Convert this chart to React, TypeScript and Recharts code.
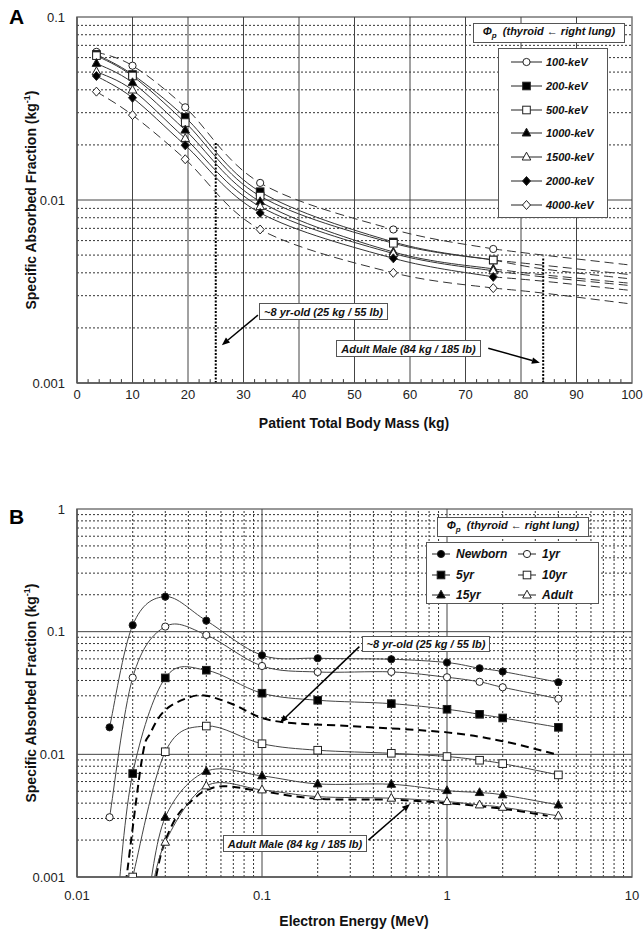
import React from 'react';
import { LineChart, Line, XAxis, YAxis, ReferenceLine, ReferenceArea } from 'recharts';

// ---- Panel A: SAF vs patient mass ----
const massKg = [3.5, 10, 19.5, 33, 57, 75];
const massExtKg = [75, 84, 100];
const massTicks = [0, 10, 20, 30, 40, 50, 60, 70, 80, 90, 100];
const massMinorTicks = [2, 4, 6, 8, 12, 14, 16, 18, 22, 24, 26, 28, 32, 34, 36, 38, 42, 44, 46, 48, 52, 54, 56, 58, 62, 64, 66, 68, 72, 74, 76, 78, 82, 84, 86, 88, 92, 94, 96, 98];
const safTicksA = [0.001, 0.01, 0.1];

const saf100keV = [0.0645, 0.0542, 0.0321, 0.0124, 0.0069, 0.0054];
const saf200keV = [0.0625, 0.0485, 0.0283, 0.0111, 0.0059, 0.0047];
const saf500keV = [0.0615, 0.0476, 0.0265, 0.0105, 0.0058, 0.0047];
const saf1000keV = [0.0558, 0.0438, 0.0241, 0.0098, 0.0052, 0.0042];
const saf1500keV = [0.0503, 0.0399, 0.0217, 0.0092, 0.0051, 0.0041];
const saf2000keV = [0.0476, 0.0362, 0.0199, 0.0085, 0.0048, 0.0038];
const saf4000keV = [0.0391, 0.0291, 0.0167, 0.0069, 0.0040, 0.0033];

const ext100keV = [0.0054, 0.0050, 0.0044];
const ext200keV = [0.0047, 0.0044, 0.0039];
const ext500keV = [0.0047, 0.0042, 0.0037];
const ext1000keV = [0.0042, 0.0039, 0.0035];
const ext1500keV = [0.0041, 0.0038, 0.0034];
const ext2000keV = [0.0038, 0.0036, 0.0032];
const ext4000keV = [0.0033, 0.0031, 0.0027];

// ---- Panel B: SAF vs electron energy ----
const energyMeV = [0.015, 0.02, 0.03, 0.05, 0.1, 0.2, 0.5, 1, 1.5, 2, 4];
const energyTicks = [0.01, 0.1, 1, 10];
const safTicksB = [0.001, 0.01, 0.1, 1];

const safNewborn = [0.0166, 0.113, 0.193, 0.123, 0.0642, 0.0607, 0.0596, 0.056, 0.0503, 0.0473, 0.0387];
const saf1yr = [0.00307, 0.0422, 0.11, 0.094, 0.0525, 0.0469, 0.047, 0.0425, 0.039, 0.0352, 0.0284];
const e5yr = [0.0165, 0.02, 0.03, 0.05, 0.1, 0.2, 0.5, 1, 1.5, 2, 4];
const saf5yr = [0.0006, 0.00697, 0.042, 0.0485, 0.0315, 0.0276, 0.0259, 0.0233, 0.0212, 0.0198, 0.0166];
const e10yr = [0.02, 0.03, 0.05, 0.1, 0.2, 0.5, 1, 1.5, 2, 4];
const saf10yr = [0.001, 0.0105, 0.017, 0.0122, 0.0108, 0.0102, 0.0096, 0.00895, 0.0084, 0.0068];
const e15yr = [0.024, 0.03, 0.05, 0.1, 0.2, 0.5, 1, 1.5, 2, 4];
const saf15yr = [0.0006, 0.00307, 0.00727, 0.00667, 0.00574, 0.0057, 0.00506, 0.00488, 0.00467, 0.00387];
const eAdult = [0.0245, 0.03, 0.05, 0.1, 0.2, 0.5, 1, 1.5, 2, 4];
const safAdult = [0.0006, 0.00192, 0.00553, 0.00513, 0.00452, 0.00439, 0.00412, 0.00387, 0.0037, 0.00315];

const e8yrFit = [0.018, 0.0224, 0.025, 0.03, 0.04, 0.05, 0.07, 0.1, 0.15, 0.3, 1, 2, 3.8];
const saf8yrFit = [0.0007, 0.009, 0.015, 0.023, 0.029, 0.03, 0.0255, 0.0198, 0.0179, 0.017, 0.0151, 0.0128, 0.0101];
const eMaleFit = [0.026, 0.029, 0.0346, 0.0425, 0.05, 0.063, 0.1, 0.2, 0.5, 1, 2, 3.5];
const safMaleFit = [0.0008, 0.0017, 0.0031, 0.0043, 0.0051, 0.0055, 0.005, 0.00434, 0.00427, 0.004, 0.0036, 0.00315];

// annotation anchors (data units): [xTail, yTail, xHead, yHead]
const arrow8yrA = [32.6, 0.00235, 26.1, 0.00161];
const arrowMaleA = [74.1, 0.00155, 83.4, 0.00129];
const arrow8yrB = [0.336, 0.0755, 0.125, 0.0181];
const arrowMaleB = [0.376, 0.002, 0.631, 0.00394];
const marker8yr = [25, 0.0205];
const markerMale = [84, 0.0049];

const FONT = '"Liberation Sans", Arial, Helvetica, sans-serif';

const minorsOf = (lo: number, hi: number) => {
  const out: number[] = [];
  for (let d = lo; d < hi; d *= 10) for (let k = 2; k <= 9; k++) out.push(+(d * k).toPrecision(3));
  return out;
};

// Excel-like smoothed line (Catmull-Rom as bezier)
const excelSmooth = (ctx: any) => {
  let pts: number[][] = [];
  return {
    areaStart() {},
    areaEnd() {},
    lineStart() { pts = []; },
    point(x: number, y: number) { pts.push([+x, +y]); },
    lineEnd() {
      const n = pts.length;
      if (!n) return;
      ctx.moveTo(pts[0][0], pts[0][1]);
      for (let i = 0; i < n - 1; i++) {
        const p0 = pts[Math.max(i - 1, 0)], p1 = pts[i], p2 = pts[i + 1], p3 = pts[Math.min(i + 2, n - 1)];
        ctx.bezierCurveTo(
          p1[0] + (p2[0] - p0[0]) / 6, p1[1] + (p2[1] - p0[1]) / 6,
          p2[0] - (p3[0] - p1[0]) / 6, p2[1] - (p3[1] - p1[1]) / 6,
          p2[0], p2[1]
        );
      }
    },
  };
};

type Shape = 'circle' | 'square' | 'triangle' | 'diamond';

const Marker = ({ cx, cy, shape, filled }: { cx: number; cy: number; shape: Shape; filled: boolean }) => {
  const common = { fill: filled ? '#000' : '#fff', stroke: '#222', strokeWidth: 1 };
  if (shape === 'circle') return <circle cx={cx} cy={cy} r={3.6} {...common} />;
  if (shape === 'square') return <rect x={cx - 3.8} y={cy - 3.8} width={7.6} height={7.6} {...common} />;
  if (shape === 'triangle') return <path d={`M${cx},${cy - 4.8}L${cx + 4.3},${cy + 3}L${cx - 4.3},${cy + 3}Z`} {...common} />;
  return <path d={`M${cx},${cy - 4.5}L${cx + 4},${cy}L${cx},${cy + 4.5}L${cx - 4},${cy}Z`} {...common} />;
};

const dotFor = (shape: Shape, filled: boolean, yMin: number) => (p: any) => {
  if (p.value == null || p.value < yMin) return <g key={p.key ?? p.index} />;
  return <g key={p.key ?? p.index}><Marker cx={p.cx} cy={p.cy} shape={shape} filled={filled} /></g>;
};

const Arrow = (p: any) => {
  const { x1, y1, x2, y2 } = p;
  const a = Math.atan2(y2 - y1, x2 - x1);
  const L = 8, W = 3.2;
  const bx = x2 - L * Math.cos(a), by = y2 - L * Math.sin(a);
  const px = -Math.sin(a) * W, py = Math.cos(a) * W;
  return (
    <g>
      <line x1={x1} y1={y1} x2={bx} y2={by} stroke="#000" strokeWidth={1.5} />
      <path d={`M${x2},${y2}L${bx + px},${by + py}L${bx - px},${by - py}Z`} fill="#000" />
    </g>
  );
};

const seriesA = [
  { name: '100-keV', vals: saf100keV, ext: ext100keV, shape: 'circle' as Shape, filled: false, dashed: true },
  { name: '200-keV', vals: saf200keV, ext: ext200keV, shape: 'square' as Shape, filled: true, dashed: false },
  { name: '500-keV', vals: saf500keV, ext: ext500keV, shape: 'square' as Shape, filled: false, dashed: false },
  { name: '1000-keV', vals: saf1000keV, ext: ext1000keV, shape: 'triangle' as Shape, filled: true, dashed: false },
  { name: '1500-keV', vals: saf1500keV, ext: ext1500keV, shape: 'triangle' as Shape, filled: false, dashed: false },
  { name: '2000-keV', vals: saf2000keV, ext: ext2000keV, shape: 'diamond' as Shape, filled: true, dashed: false },
  { name: '4000-keV', vals: saf4000keV, ext: ext4000keV, shape: 'diamond' as Shape, filled: false, dashed: true },
];

const seriesB = [
  { name: 'Newborn', e: energyMeV, vals: safNewborn, shape: 'circle' as Shape, filled: true },
  { name: '1yr', e: energyMeV, vals: saf1yr, shape: 'circle' as Shape, filled: false },
  { name: '5yr', e: e5yr, vals: saf5yr, shape: 'square' as Shape, filled: true },
  { name: '10yr', e: e10yr, vals: saf10yr, shape: 'square' as Shape, filled: false },
  { name: '15yr', e: e15yr, vals: saf15yr, shape: 'triangle' as Shape, filled: true },
  { name: 'Adult', e: eAdult, vals: safAdult, shape: 'triangle' as Shape, filled: false },
];

const fitsB = [
  { name: '8yr', e: e8yrFit, vals: saf8yrFit },
  { name: 'male', e: eMaleFit, vals: safMaleFit },
];

const tickStyle = { fontSize: 13, fill: '#222', fontFamily: FONT };
const dotted = { stroke: '#333', strokeWidth: 1, strokeDasharray: '2 2' };
const solid = { stroke: '#444', strokeWidth: 1 };

const boxStyle: React.CSSProperties = {
  position: 'absolute', background: '#fff', border: '1px solid #555', boxSizing: 'border-box',
  fontFamily: FONT, fontWeight: 'bold', fontStyle: 'italic', fontSize: 11, color: '#111',
  display: 'flex', alignItems: 'center', justifyContent: 'center', whiteSpace: 'nowrap',
};

const PhiTitle = ({ left, top }: { left: number; top: number }) => (
  <div style={{ ...boxStyle, left, top, width: 152, height: 20 }}>
    <span>Φ<sub style={{ fontSize: 8 }}>p</sub>&nbsp;&nbsp;(thyroid ← right lung)</span>
  </div>
);

const LegendSwatch = ({ shape, filled, w }: { shape: Shape; filled: boolean; w: number }) => (
  <svg width={w} height={12} style={{ display: 'block' }}>
    <line x1={0} y1={6} x2={w} y2={6} stroke="#222" strokeWidth={1} />
    <Marker cx={w / 2} cy={6} shape={shape} filled={filled} />
  </svg>
);

const AxisTitle = ({ x, y, children }: { x: number; y: number; children: React.ReactNode }) => (
  <div style={{ position: 'absolute', left: x - 150, top: y - 9, width: 300, height: 18, lineHeight: '18px', textAlign: 'center', fontFamily: FONT, fontWeight: 'bold', fontSize: 14, color: '#111' }}>{children}</div>
);

const YTitle = ({ x, y }: { x: number; y: number }) => (
  <div style={{ position: 'absolute', left: x - 150, top: y - 9, width: 300, height: 18, lineHeight: '18px', textAlign: 'center', fontFamily: FONT, fontWeight: 'bold', fontSize: 14, color: '#111', transform: 'rotate(-90deg)' }}>
    Specific Absorbed Fraction (kg<sup style={{ fontSize: 9 }}>-1</sup>)
  </div>
);

const PanelA = () => (
  <LineChart width={644} height={440} margin={{ top: 17, right: 12, bottom: 7, left: 0 }}>
    <XAxis type="number" dataKey="m" domain={[0, 100]} ticks={massTicks} tickLine={false} tickSize={0} tickMargin={7} tick={tickStyle} axisLine={{ stroke: '#555', strokeWidth: 1.5 }} height={50} interval={0} />
    <YAxis type="number" scale="log" domain={[0.001, 0.1]} allowDataOverflow ticks={safTicksA} tickFormatter={(v) => String(v)} tickLine={false} tickSize={0} tickMargin={12} tick={tickStyle} axisLine={{ stroke: '#555', strokeWidth: 1.5 }} width={77} interval={0} />
    {minorsOf(0.001, 0.1).map((v) => <ReferenceLine key={'h' + v} y={v} {...dotted} />)}
    <ReferenceLine y={0.01} {...solid} />
    {massTicks.slice(1, -1).map((v) => <ReferenceLine key={'v' + v} x={v} {...solid} />)}
    {massMinorTicks.map((v) => (
      <ReferenceLine key={'t' + v} segment={[{ x: v, y: 0.001 }, { x: v, y: 0.00105 }]} stroke="#333" strokeWidth={1} />
    ))}
    <ReferenceArea x1={0} x2={100} y1={0.001} y2={0.1} fill="none" stroke="#777" strokeWidth={1.5} />
    <ReferenceLine segment={[{ x: marker8yr[0], y: 0.001 }, { x: marker8yr[0], y: marker8yr[1] }]} stroke="#000" strokeWidth={2} strokeDasharray="2 1.5" />
    <ReferenceLine segment={[{ x: markerMale[0], y: 0.001 }, { x: markerMale[0], y: markerMale[1] }]} stroke="#000" strokeWidth={2} strokeDasharray="2 1.5" />
    {seriesA.map((s) => (
      <Line key={s.name + 'ext'} data={massExtKg.map((m, i) => ({ m, v: s.ext[i] }))} dataKey="v" type={excelSmooth as any} stroke="#333" strokeWidth={1} strokeDasharray="9 5" dot={false} activeDot={false} isAnimationActive={false} />
    ))}
    {seriesA.map((s) => (
      <Line key={s.name} data={massKg.map((m, i) => ({ m, v: s.vals[i] }))} dataKey="v" type={excelSmooth as any} stroke="#333" strokeWidth={1} strokeDasharray={s.dashed ? '9 5' : undefined} dot={dotFor(s.shape, s.filled, 0.001)} activeDot={false} isAnimationActive={false} />
    ))}
    <ReferenceLine segment={[{ x: arrow8yrA[0], y: arrow8yrA[1] }, { x: arrow8yrA[2], y: arrow8yrA[3] }]} shape={Arrow} />
    <ReferenceLine segment={[{ x: arrowMaleA[0], y: arrowMaleA[1] }, { x: arrowMaleA[2], y: arrowMaleA[3] }]} shape={Arrow} />
  </LineChart>
);

const PanelB = () => (
  <LineChart width={644} height={471} margin={{ top: 49, right: 12, bottom: 0, left: 0 }}>
    <XAxis type="number" scale="log" dataKey="e" domain={[0.01, 10]} allowDataOverflow ticks={energyTicks} tickFormatter={(v) => String(v)} tickLine={false} tickSize={0} tickMargin={14} tick={tickStyle} axisLine={{ stroke: '#555', strokeWidth: 1.5 }} height={54} interval={0} />
    <YAxis type="number" scale="log" domain={[0.001, 1]} allowDataOverflow ticks={safTicksB} tickFormatter={(v) => String(v)} tickLine={false} tickSize={0} tickMargin={12} tick={tickStyle} axisLine={{ stroke: '#555', strokeWidth: 1.5 }} width={77} interval={0} />
    {minorsOf(0.001, 1).map((v) => <ReferenceLine key={'h' + v} y={v} {...dotted} />)}
    {minorsOf(0.01, 10).map((v) => <ReferenceLine key={'v' + v} x={v} {...dotted} />)}
    <ReferenceLine y={0.01} {...solid} />
    <ReferenceLine y={0.1} {...solid} />
    <ReferenceLine x={0.1} {...solid} />
    <ReferenceLine x={1} {...solid} />
    <ReferenceArea x1={0.01} x2={10} y1={0.001} y2={1} fill="none" stroke="#777" strokeWidth={1.5} />
    {fitsB.map((s) => (
      <Line key={s.name} data={s.e.map((e, i) => ({ e, v: s.vals[i] }))} dataKey="v" type={excelSmooth as any} stroke="#000" strokeWidth={2} strokeDasharray="8 5" dot={false} activeDot={false} isAnimationActive={false} />
    ))}
    {seriesB.map((s) => (
      <Line key={s.name} data={s.e.map((e, i) => ({ e, v: s.vals[i] }))} dataKey="v" type={excelSmooth as any} stroke="#444" strokeWidth={1} dot={dotFor(s.shape, s.filled, 0.001)} activeDot={false} isAnimationActive={false} />
    ))}
    <ReferenceLine segment={[{ x: arrow8yrB[0], y: arrow8yrB[1] }, { x: arrow8yrB[2], y: arrow8yrB[3] }]} shape={Arrow} />
    <ReferenceLine segment={[{ x: arrowMaleB[0], y: arrowMaleB[1] }, { x: arrowMaleB[2], y: arrowMaleB[3] }]} shape={Arrow} />
  </LineChart>
);

export default function App() {
  return (
    <div style={{ position: 'absolute', left: 0, top: 0, width: 644, height: 931, background: '#fff', overflow: 'hidden' }}>
      <div style={{ position: 'absolute', left: 0, top: 0 }}><PanelA /></div>
      <div style={{ position: 'absolute', left: 0, top: 460 }}><PanelB /></div>

      <div style={{ position: 'absolute', left: 9, top: 7, fontFamily: FONT, fontWeight: 'bold', fontSize: 21, lineHeight: '20px' }}>A</div>
      <div style={{ position: 'absolute', left: 9, top: 507, fontFamily: FONT, fontWeight: 'bold', fontSize: 21, lineHeight: '20px' }}>B</div>

      <YTitle x={27} y={200} />
      <YTitle x={27} y={693} />
      <AxisTitle x={354} y={423}>Patient Total Body Mass (kg)</AxisTitle>
      <AxisTitle x={354} y={921}>Electron Energy (MeV)</AxisTitle>

      <PhiTitle left={473} top={23} />
      <div style={{ ...boxStyle, left: 498, top: 48, width: 110, height: 170, display: 'block' }}>
        {seriesA.map((s, i) => (
          <div key={s.name} style={{ position: 'absolute', left: 12, top: 6 + i * 23.8, height: 14, display: 'flex', alignItems: 'center', gap: 4 }}>
            <LegendSwatch shape={s.shape} filled={s.filled} w={31} />
            <span>{s.name}</span>
          </div>
        ))}
      </div>

      <PhiTitle left={437} top={517} />
      <div style={{ ...boxStyle, left: 426, top: 542, width: 173, height: 62, display: 'block' }}>
        {seriesB.map((s, i) => (
          <div key={s.name} style={{ position: 'absolute', left: i % 2 === 0 ? 5 : 91, top: 4 + Math.floor(i / 2) * 20.7, height: 14, display: 'flex', alignItems: 'center', gap: 6 }}>
            <LegendSwatch shape={s.shape} filled={s.filled} w={18} />
            <span style={{ fontSize: 12 }}>{s.name}</span>
          </div>
        ))}
      </div>

      <div style={{ ...boxStyle, left: 259, top: 303, width: 129, height: 17 }}>~8 yr-old (25 kg / 55 lb)</div>
      <div style={{ ...boxStyle, left: 336, top: 340, width: 145, height: 17 }}>Adult Male (84 kg / 185 lb)</div>
      <div style={{ ...boxStyle, left: 362, top: 636, width: 128, height: 16 }}>~8 yr-old (25 kg / 55 lb)</div>
      <div style={{ ...boxStyle, left: 223, top: 835, width: 144, height: 17 }}>Adult Male (84 kg / 185 lb)</div>
    </div>
  );
}
